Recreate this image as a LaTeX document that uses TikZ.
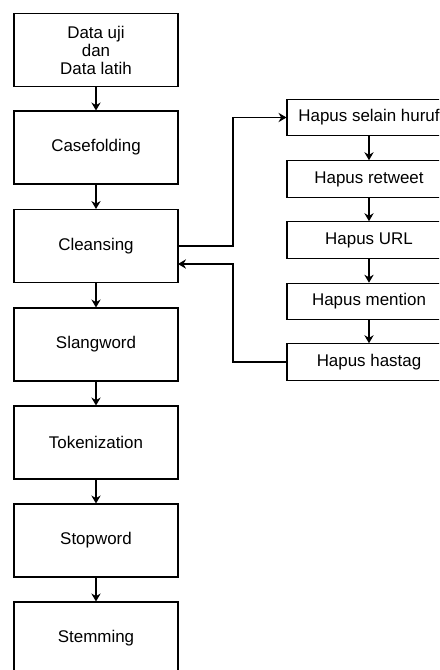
\documentclass[tikz,border=0pt]{standalone}
\usepackage{fontspec}
\setmainfont{Liberation Sans}
\usetikzlibrary{arrows.meta,calc}

\tikzset{
  tahap/.style={draw,line width=0.8pt,minimum width=123pt,minimum height=54.75pt,inner sep=1pt,align=center,font=\fontsize{12.7}{13.5}\selectfont},
  hapus/.style={draw,line width=0.8pt,minimum width=123pt,minimum height=27.4pt,inner sep=1pt,font=\fontsize{12.7}{13.5}\selectfont},
  panah/.style={-{Stealth[length=6pt,width=7pt,inset=2pt]},line width=0.8pt}
}

\begin{document}
\begin{tikzpicture}[x=0.75pt,y=-0.75pt]
\useasboundingbox (0,0) rectangle (439,670);
\clip (0,0) rectangle (439,670);
\fill[white] (0,0) rectangle (439,670);
% alur utama
\node[tahap] (data) at (96,50) {Data uji\\dan\\Data latih};
\node[tahap] (case) at (96,147.5) {Casefolding};
\node[tahap] (clean) at (96,246) {Cleansing};
\node[tahap] (slang) at (96,344.5) {Slangword};
\node[tahap] (token) at (96,442.5) {Tokenization};
\node[tahap] (stop) at (96,540.5) {Stopword};
\node[tahap] (stem) at (96,638.5) {Stemming};
% langkah cleansing
\node[hapus] (huruf) at (369,117.5) {Hapus selain huruf};
\node[hapus] (retweet) at (369,179) {Hapus retweet};
\node[hapus] (url) at (369,240) {Hapus URL};
\node[hapus] (mention) at (369,301.5) {Hapus mention};
\node[hapus] (hastag) at (369,362) {Hapus hastag};
\coordinate (belok) at (233,0);
\coordinate (masuk) at (178,264);
\draw[panah] (data) -- (case);
\draw[panah] (case) -- (clean);
\draw[panah] (clean) -- (slang);
\draw[panah] (slang) -- (token);
\draw[panah] (token) -- (stop);
\draw[panah] (stop) -- (stem);
\draw[panah] (huruf) -- (retweet);
\draw[panah] (retweet) -- (url);
\draw[panah] (url) -- (mention);
\draw[panah] (mention) -- (hastag);
\draw[panah] (clean.east) -- (clean.east -| belok) |- (huruf.west);
\draw[panah] (hastag.west) -- (hastag.west -| belok) -- (belok |- masuk) -- (masuk);
\end{tikzpicture}
\end{document}
